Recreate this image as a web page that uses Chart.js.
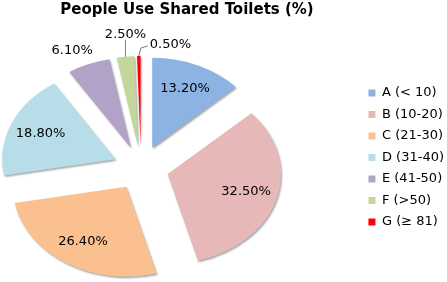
<!DOCTYPE html>
<html lang="en">
<head>
<meta charset="UTF-8">
<title>People Use Shared Toilets</title>
<script src="https://cdn.jsdelivr.net/npm/chart.js"></script>
<style>
  html, body { margin: 0; padding: 0; background: #fff; }
  .chart-container { width: 447px; height: 282px; }
</style>
</head>
<body>
<div class="chart-container"><canvas id="toiletChart"></canvas></div>
<script>
const categories = ['A (< 10)', 'B (10-20)', 'C (21-30)', 'D (31-40)', 'E (41-50)', 'F (>50)', 'G (≥ 81)'];
const shares = [13.2, 32.5, 26.4, 18.8, 6.1, 2.5, 0.5];
const sliceColors = ['#8db3e2', '#e6b9b8', '#fac090', '#b7dee8', '#b3a2c7', '#c3d69b', '#ff0000'];
// where each percentage label goes
const labelStyle = ['inside', 'inside', 'inside', 'inside', 'outside', 'above', 'right'];

// the original pie is wider than tall, so draw a circle and stretch it
const stretchX = 1.26;
const pieCenter = { x: 141, y: 168 };
const explode = 22; // every slice pulled out by the same amount
const labelFont = '13px "DejaVu Sans"';

function toScreen(arc, px, py) {
    return {
        x: pieCenter.x + stretchX * (px - arc.x),
        y: pieCenter.y + (py - arc.y)
    };
}

function pointOnArc(arc, r) {
    const mid = (arc.startAngle + arc.endAngle) / 2;
    return toScreen(arc, arc.x + Math.cos(mid) * r, arc.y + Math.sin(mid) * r);
}

const stretchPie = {
    id: 'stretchPie',
    beforeDatasetDraw(chart, args) {
        const arcs = args.meta.data;
        const ctx = chart.ctx;
        ctx.save();
        ctx.translate(pieCenter.x, pieCenter.y);
        ctx.scale(stretchX, 1);
        ctx.translate(-arcs[0].x, -arcs[0].y);
        ctx.shadowColor = 'rgba(0, 0, 0, 0.35)';
        ctx.shadowBlur = 2;
        ctx.shadowOffsetX = 1;
        ctx.shadowOffsetY = 1.5;
        arcs.forEach(arc => {
            const mid = (arc.startAngle + arc.endAngle) / 2;
            ctx.save();
            ctx.translate(Math.cos(mid) * explode, Math.sin(mid) * explode);
            arc.draw(ctx, chart.chartArea);
            ctx.restore();
        });
        ctx.restore();
        return false;
    },
    afterDatasetsDraw(chart) {
        const ctx = chart.ctx;
        ctx.save();
        ctx.font = labelFont;
        ctx.fillStyle = '#000';
        ctx.strokeStyle = '#7f7f7f';
        ctx.lineWidth = 1;
        chart.getDatasetMeta(0).data.forEach((arc, i) => {
            const text = shares[i].toFixed(2) + '%';
            const R = arc.outerRadius;
            const style = labelStyle[i];

            if (style === 'inside') {
                const p = pointOnArc(arc, explode + 0.72 * R);
                ctx.textAlign = 'center';
                ctx.textBaseline = 'middle';
                ctx.fillText(text, p.x, p.y);
            } else if (style === 'outside') {
                const p = pointOnArc(arc, explode + R + 8);
                ctx.textAlign = 'right';
                ctx.textBaseline = 'middle';
                ctx.fillText(text, p.x + 8, p.y - 6);
            } else if (style === 'above') {
                const p = pointOnArc(arc, explode + R);
                ctx.beginPath();
                ctx.moveTo(p.x, p.y);
                ctx.lineTo(p.x, p.y - 17);
                ctx.stroke();
                ctx.textAlign = 'center';
                ctx.textBaseline = 'bottom';
                ctx.fillText(text, p.x, p.y - 16);
            } else {
                const p = pointOnArc(arc, explode + R);
                ctx.beginPath();
                ctx.moveTo(p.x, p.y);
                ctx.lineTo(p.x + 2, p.y - 8);
                ctx.lineTo(p.x + 9, p.y - 10);
                ctx.stroke();
                ctx.textAlign = 'left';
                ctx.textBaseline = 'middle';
                ctx.fillText(text, p.x + 11, p.y - 11);
            }
        });
        ctx.restore();
    }
};

const ctx = document.getElementById('toiletChart').getContext('2d');
const chart = new Chart(ctx, {
    type: 'pie',
    data: {
        labels: categories,
        datasets: [{
            data: shares,
            backgroundColor: sliceColors,
            borderWidth: 0,
            hoverOffset: 0,
            clip: false
        }]
    },
    options: {
        responsive: true,
        maintainAspectRatio: false,
        animation: false,
        radius: 90,
        layout: { padding: { left: 14, right: -7, top: 0, bottom: 0 } },
        plugins: {
            title: {
                display: true,
                text: 'People Use Shared Toilets (%)',
                fullSize: false,
                color: '#000',
                font: { family: 'DejaVu Sans', size: 15, weight: 'bold' },
                padding: { top: 1, bottom: 14 }
            },
            legend: {
                position: 'right',
                fullSize: false,
                labels: {
                    color: '#000',
                    boxWidth: 7,
                    boxHeight: 7,
                    padding: 8.5,
                    font: { family: 'DejaVu Sans', size: 13 }
                }
            },
            tooltip: { enabled: false }
        }
    },
    plugins: [stretchPie]
});
</script>
</body>
</html>
